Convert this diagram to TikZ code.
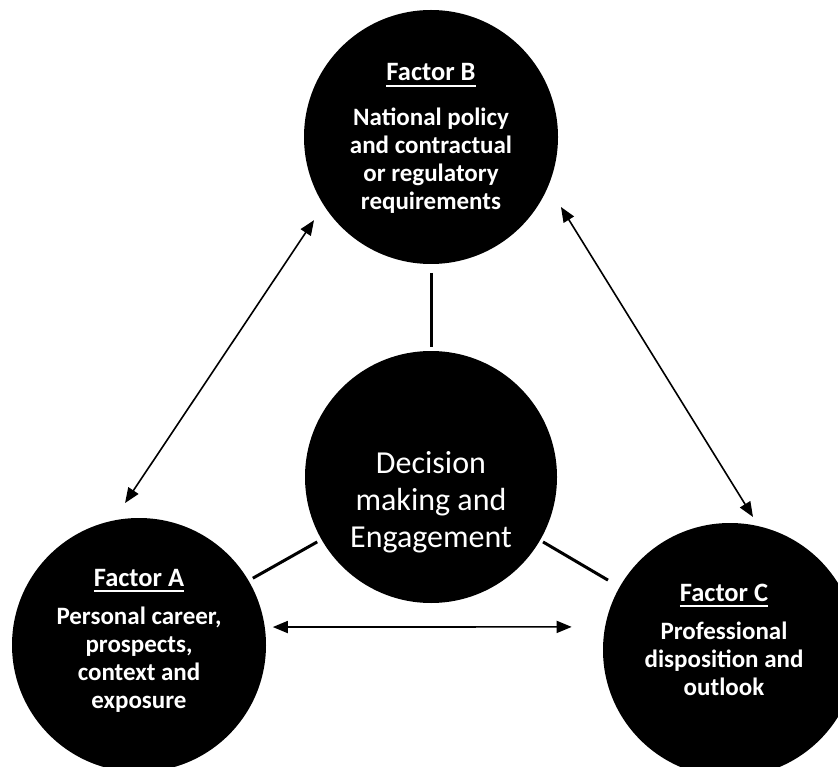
\documentclass[tikz,border=0pt]{standalone}
\usepackage{fontspec}
\setmainfont{Carlito}
\usetikzlibrary{calc,arrows.meta}

% underlined heading of a factor circle
\newcommand\facthead[1]{\setbox0\hbox{\fontsize{26.5}{28}\selectfont #1}\rlap{\copy0}\rule[-6pt]{\wd0}{2pt}}

\tikzset{
  factor/.style={circle, fill=black, draw=none, inner sep=0pt, minimum size=254pt},
  core/.style={circle, fill=black, draw=none, inner sep=0pt, minimum size=252pt},
  factortext/.style={text=white, align=center, inner sep=0pt,
    font=\fontsize{25}{28}\selectfont\bfseries},
  coretext/.style={text=white, align=center, inner sep=0pt,
    font=\fontsize{32}{37}\selectfont},
  link/.style={line width=3pt, black},
  twoway/.style={line width=1.6pt, black,
    {Triangle[length=15pt,width=12pt]}-{Triangle[length=15pt,width=12pt]}}
}

\begin{document}
\begin{tikzpicture}[x=1pt,y=1pt]
  \useasboundingbox (0,0) rectangle (838,-767);
  \clip (0,0) rectangle (838,-767);

  % circles
  \node[factor] (B) at (431,-137) {};
  \node[factor] (A) at (139,-645) {};
  \node[factor] (C) at (730,-650) {};
  \node[core]   (D) at (431,-477) {};

  % texts, placed by the baseline of their last line
  \node[factortext, anchor=base] (Bt) at (431,-210)
    {\facthead{Factor B}\\[17pt]National policy\\and contractual\\or regulatory\\requirements};
  \node[factortext, anchor=base] (At) at (139,-708)
    {\facthead{Factor A}\\[10pt]Personal career,\\prospects,\\context and\\exposure};
  \node[factortext, anchor=base] (Ct) at (724,-695)
    {\facthead{Factor C}\\[10pt]Professional\\disposition and\\outlook};
  \node[coretext, anchor=base] (Dt) at (431,-547)
    {Decision\\making and\\Engagement};

  % links to the central circle
  \draw[link] ($(B)+(-90:136pt)$) -- ($(D)+(90:130pt)$);
  \draw[link] ($(A)+(30.4:132pt)$) -- ($(D)+(209.7:131pt)$);
  \draw[link] ($(D)+(-30.1:129.5pt)$) -- ($(C)+(150.2:140.6pt)$);

  % two-way arrows between factors
  \draw[twoway] ($(A)+(95.6:142.7pt)$) -- ($(B)+(215.4:143.5pt)$);
  \draw[twoway] ($(B)+(-28.3:147.6pt)$) -- ($(C)+(80.2:135pt)$);
  \draw[twoway] ($(A)+(7.65:135pt)$) -- ($(C)+(171.7:160pt)$);
\end{tikzpicture}
\end{document}
